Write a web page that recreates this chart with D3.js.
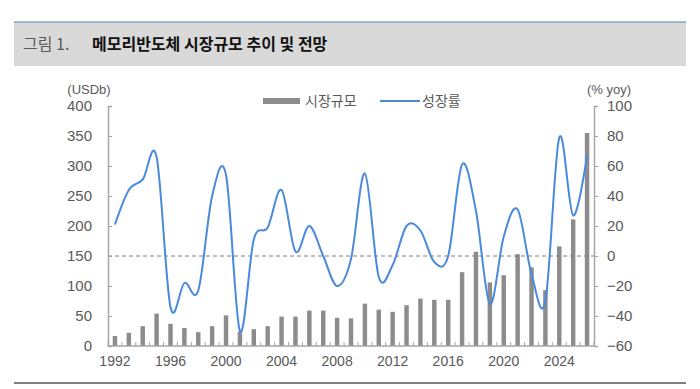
<!DOCTYPE html>
<html>
<head>
<meta charset="utf-8">
<script src="https://cdn.jsdelivr.net/npm/d3@7"></script>
<style>
  body { margin: 0; background: #fff; }
  svg { display: block; font-family: "Liberation Sans", "Noto Sans CJK KR", sans-serif; }
</style>
</head>
<body>
<svg width="700" height="389"></svg>
<script>
// data
const years = [1992, 1993, 1994, 1995, 1996, 1997, 1998, 1999, 2000, 2001, 2002, 2003,
  2004, 2005, 2006, 2007, 2008, 2009, 2010, 2011, 2012, 2013, 2014, 2015, 2016,
  2017, 2018, 2019, 2020, 2021, 2022, 2023, 2024, 2025, 2026];
const marketSize = [16.7, 22, 33, 54, 37, 30, 23, 33, 51, 24, 28, 33,
  49, 49, 59, 59, 47, 46, 70.6, 60.5, 57, 68, 79, 77, 77,
  123, 157, 106, 118, 153, 131, 93, 166, 211, 355];
const growth = [21, 44, 51, 66, -34, -18, -23, 40, 54, -50, 11, 19,
  44, 3, 20, 0, -20, -2, 55, -14, -6, 20, 17, -4, 0,
  61, 30, -32, 13, 31, -12, -30, 79, 27, 67];
const xLabels = [1992, 1996, 2000, 2004, 2008, 2012, 2016, 2020, 2024];
const leftTicks = [0, 50, 100, 150, 200, 250, 300, 350, 400];
const rightTicks = [-60, -40, -20, 0, 20, 40, 60, 80, 100];

const svg = d3.select('svg');
const grey = '#595959';
const kr = '"Noto Sans CJK KR", sans-serif';

// header band
svg.append('rect').attr('x', 14).attr('y', 22).attr('width', 672).attr('height', 44)
  .attr('fill', '#d9d9d9');
svg.append('line').attr('x1', 14).attr('x2', 686).attr('y1', 22).attr('y2', 22)
  .attr('stroke', '#4f81bd').attr('stroke-width', 1);
svg.append('text').attr('x', 23).attr('y', 50)
  .style('font-family', kr).style('font-size', '16px').attr('fill', grey)
  .text('그림 1.');
svg.append('text').attr('x', 92).attr('y', 50)
  .style('font-family', kr).style('font-size', '16px').style('font-weight', 'bold')
  .attr('fill', '#111').text('메모리반도체 시장규모 추이 및 전망');

// bottom rule
svg.append('line').attr('x1', 14).attr('x2', 686).attr('y1', 383).attr('y2', 383)
  .attr('stroke', '#7f7f7f').attr('stroke-width', 2);

const plotL = 108, plotR = 594, plotT = 106, plotB = 346;

const x = d3.scaleBand().domain(years).range([plotL, plotR]).paddingInner(0.68).paddingOuter(0.34);
const yL = d3.scaleLinear().domain([0, 400]).range([plotB, plotT]);
const yR = d3.scaleLinear().domain([-60, 100]).range([plotB, plotT]);

// bars
svg.append('g').selectAll('rect').data(years)
  .join('rect')
  .attr('x', d => x(d))
  .attr('y', (d, i) => yL(marketSize[i]))
  .attr('width', x.bandwidth())
  .attr('height', (d, i) => plotB - yL(marketSize[i]))
  .attr('fill', '#8c8c8c');

// zero line for growth
svg.append('line').attr('x1', plotL).attr('x2', plotR)
  .attr('y1', yR(0)).attr('y2', yR(0))
  .attr('stroke', '#7f7f7f').attr('stroke-width', 1).attr('stroke-dasharray', '4,3');

// growth line
const line = d3.line()
  .x((d, i) => x(years[i]) + x.bandwidth() / 2)
  .y(d => yR(d))
  .curve(d3.curveCardinal.tension(0));
svg.append('path').datum(growth)
  .attr('d', line)
  .attr('fill', 'none')
  .attr('stroke', '#4a89dc')
  .attr('stroke-width', 2);

// axes
const axisColor = '#a6a6a6';
const gl = svg.append('g').attr('transform', `translate(${plotL},0)`)
  .call(d3.axisLeft(yL).tickValues(leftTicks).tickSize(-4).tickPadding(16));
const gr = svg.append('g').attr('transform', `translate(${plotR},0)`)
  .call(d3.axisRight(yR).tickValues(rightTicks).tickSize(4).tickPadding(9));
[gl, gr].forEach(g => {
  g.select('.domain').attr('stroke', axisColor).attr('stroke-width', 1.5);
  g.selectAll('.tick line').attr('stroke', axisColor);
  g.selectAll('.tick text').attr('fill', grey).style('font-size', '15px');
});

const step = x.step();
const bounds = d3.range(years.length + 1).map(i => x(years[0]) - (step - x.bandwidth()) / 2 + i * step);
svg.append('g').selectAll('line').data(bounds)
  .join('line')
  .attr('x1', d => d).attr('x2', d => d)
  .attr('y1', plotB).attr('y2', plotB - 4)
  .attr('stroke', axisColor);
svg.append('line').attr('x1', plotL).attr('x2', plotR).attr('y1', plotB).attr('y2', plotB)
  .attr('stroke', axisColor).attr('stroke-width', 1.5);

svg.append('g').selectAll('text').data(xLabels)
  .join('text')
  .attr('x', d => x(d) + x.bandwidth() / 2)
  .attr('y', 366)
  .attr('text-anchor', 'middle')
  .attr('fill', grey)
  .style('font-size', '14px')
  .text(d => d);

// axis titles
svg.append('text').attr('x', 89).attr('y', 94).attr('text-anchor', 'middle')
  .attr('fill', grey).style('font-size', '13px').text('(USDb)');
svg.append('text').attr('x', 609).attr('y', 94).attr('text-anchor', 'middle')
  .attr('fill', grey).style('font-size', '13px').text('(% yoy)');

// legend
const legend = svg.append('g');
legend.append('rect').attr('x', 263).attr('y', 98).attr('width', 37).attr('height', 6)
  .attr('fill', '#8c8c8c');
legend.append('text').attr('x', 305).attr('y', 106)
  .style('font-family', kr).style('font-size', '14px').attr('fill', grey).text('시장규모');
legend.append('line').attr('x1', 380).attr('x2', 420).attr('y1', 101).attr('y2', 101)
  .attr('stroke', '#4a89dc').attr('stroke-width', 2);
legend.append('text').attr('x', 422).attr('y', 106)
  .style('font-family', kr).style('font-size', '14px').attr('fill', grey).text('성장률');
</script>
</body>
</html>
